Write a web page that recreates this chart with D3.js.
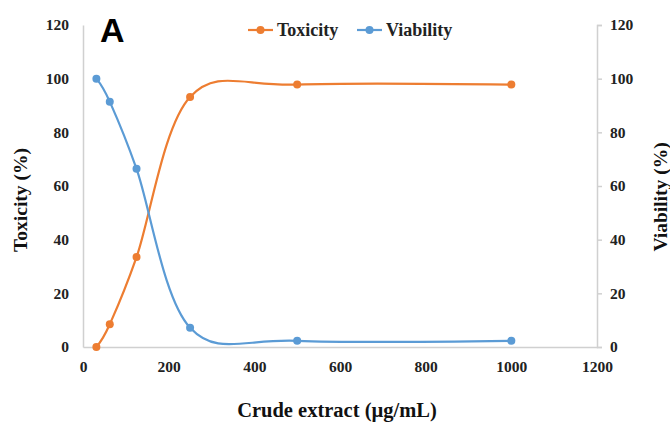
<!DOCTYPE html>
<html>
<head>
<meta charset="utf-8">
<script src="https://cdn.jsdelivr.net/npm/d3@7"></script>
<style>
  body { margin: 0; background: #fff; }
  svg { display: block; }
</style>
</head>
<body>
<svg id="chart" width="670" height="423"></svg>
<script>
// concentrations (µg/mL)
const doses = [31.25, 62.5, 125, 250, 500, 1000];
const toxicity = [0, 8.5, 33.5, 93.2, 97.8, 97.8];
const viability = [100, 91.4, 66.4, 7.2, 2.3, 2.3];
const xTicks = [0, 200, 400, 600, 800, 1000, 1200];
const yTicks = [0, 20, 40, 60, 80, 100, 120];

const svg = d3.select('#chart');
const margin = {top: 25, right: 73, bottom: 76, left: 83};
const width = 670 - margin.left - margin.right,
  height = 423 - margin.top - margin.bottom;

const g = svg.append('g').attr('transform', `translate(${margin.left},${margin.top})`);

const x = d3.scaleLinear().domain([0, 1200]).range([0, width]);
const y = d3.scaleLinear().domain([0, 120]).range([height, 0]);
const y2 = d3.scaleLinear().domain([0, 120]).range([height, 0]);

const axisColor = '#d0d0d0';
const font = 'Liberation Serif, Times New Roman, serif';

// left axis - no tick marks
const yAxis = g.append('g')
  .call(d3.axisLeft(y).tickValues(yTicks).tickFormat(d3.format('d')).tickSize(0).tickPadding(14));
// bottom axis
const xAxis = g.append('g').attr('transform', `translate(0,${height})`)
  .call(d3.axisBottom(x).tickValues(xTicks).tickFormat(d3.format('d')).tickSize(0).tickPadding(14));
// right axis with small outer ticks
const yAxis2 = g.append('g').attr('transform', `translate(${width},0)`)
  .call(d3.axisRight(y2).tickValues(yTicks).tickFormat(d3.format('d')).tickSize(5).tickPadding(8));

[yAxis, xAxis, yAxis2].forEach((a) => {
  a.attr('font-family', font).attr('font-size', 15.5).attr('font-weight', 'bold');
  a.select('.domain').attr('stroke', axisColor).attr('stroke-width', 1.5);
  a.selectAll('.tick line').attr('stroke', axisColor).attr('stroke-width', 1.5);
  a.selectAll('.tick text').attr('fill', '#222');
});

const series = [
  {name: 'Toxicity', vals: toxicity, color: '#ED7D31', scale: y},
  {name: 'Viability', vals: viability, color: '#5B9BD5', scale: y2}
];

series.forEach((s) => {
  const pts = doses.map((d, i) => [d, s.vals[i]]);
  const line = d3.line()
    .x((d) => x(d[0]))
    .y((d) => s.scale(d[1]))
    .curve(d3.curveCardinal.tension(0));
  g.append('path').datum(pts)
    .attr('d', line)
    .attr('fill', 'none')
    .attr('stroke', s.color)
    .attr('stroke-width', 2.2);
  g.selectAll(null).data(pts).enter().append('circle')
    .attr('cx', (d) => x(d[0]))
    .attr('cy', (d) => s.scale(d[1]))
    .attr('r', 4)
    .attr('fill', s.color);
});

// legend
const legend = svg.append('g').attr('transform', 'translate(248,30)');
const legX = [0, 109];
series.forEach((s, i) => {
  const lg = legend.append('g').attr('transform', `translate(${legX[i]},0)`);
  lg.append('line').attr('x1', 0).attr('x2', 25).attr('y1', 0).attr('y2', 0)
    .attr('stroke', s.color).attr('stroke-width', 2.2);
  lg.append('circle').attr('cx', 12.5).attr('cy', 0).attr('r', 4).attr('fill', s.color);
  lg.append('text').attr('x', 29).attr('y', 6)
    .text(s.name)
    .attr('font-family', font)
    .attr('font-weight', 'bold')
    .attr('font-size', 18)
    .attr('fill', '#222');
});

// axis titles
svg.append('text')
  .attr('x', 337).attr('y', 417)
  .attr('text-anchor', 'middle')
  .text('Crude extract (µg/mL)')
  .attr('font-family', font).attr('font-weight', 'bold').attr('font-size', 20.5)
  .attr('fill', '#111');

svg.append('text')
  .attr('transform', 'translate(27,200) rotate(-90)')
  .attr('text-anchor', 'middle')
  .text('Toxicity (%)')
  .attr('font-family', font).attr('font-weight', 'bold').attr('font-size', 19.5)
  .attr('fill', '#111');

svg.append('text')
  .attr('transform', 'translate(667,197) rotate(-90)')
  .attr('text-anchor', 'middle')
  .text('Viability (%)')
  .attr('font-family', font).attr('font-weight', 'bold').attr('font-size', 19.5)
  .attr('fill', '#111');

// panel label
svg.append('text')
  .attr('x', 100).attr('y', 42)
  .text('A')
  .attr('font-family', 'Liberation Sans, Arial, sans-serif')
  .attr('font-weight', 'bold').attr('font-size', 34)
  .attr('fill', '#000');
</script>
</body>
</html>
